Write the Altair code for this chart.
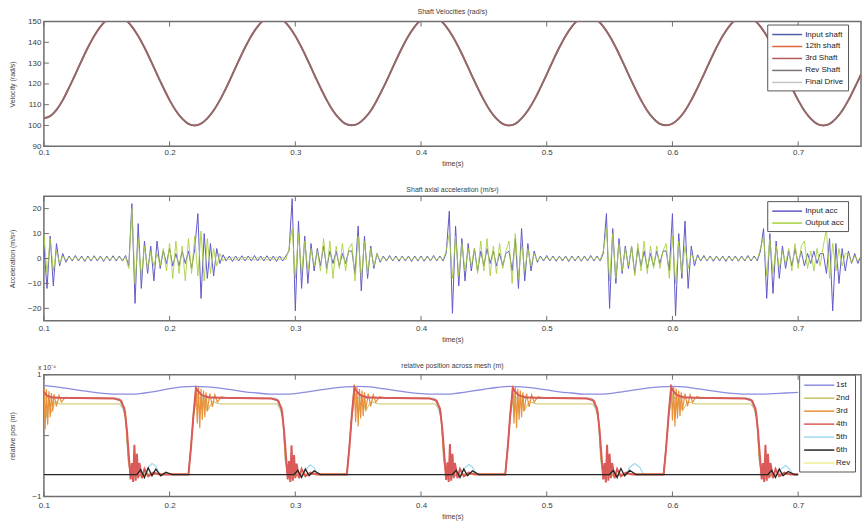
import altair as alt
import pandas as pd

FONT = "Liberation Sans"
TXT = "#3c3c3c"
FRAME = "#6f6f6f"
W = 819
H1, H2, H3 = 125, 125, 122
X_TICKS = [0.1, 0.2, 0.3, 0.4, 0.5, 0.6, 0.7]

# ---------------- Panel 1: shaft velocities (rad/s), sampled every 0.005 s from 0.100 s
vel_step = 0.005
velocity = [
    103.5, 104.5, 107.5, 112.2, 118.2, 124.6, 131.2, 137.5, 143.1, 147.6, 150.8, 152.4, 152.4,
    150.8, 147.6, 143.1, 137.5, 131.2, 124.6, 118.2, 112.2, 107.1, 103.3, 100.8, 100.0,
    100.9, 103.4, 107.2, 112.2, 118.1, 124.6, 131.2, 137.5, 143.1, 147.6, 150.8, 152.4, 152.4,
    150.8, 147.6, 143.1, 137.5, 131.2, 124.6, 118.2, 112.2, 107.1, 103.3, 100.8, 100.1,
    100.9, 103.4, 107.1, 112.3, 118.2, 124.6, 131.2, 137.5, 143.1, 147.6, 150.8, 152.4, 152.4,
    150.8, 147.6, 143.1, 137.5, 131.2, 124.6, 118.2, 112.2, 107.1, 103.3, 100.8, 100.0,
    100.8, 103.4, 107.2, 112.2, 118.2, 124.6, 131.2, 137.5, 143.1, 147.6, 150.8, 152.4, 152.4,
    150.8, 147.6, 143.1, 137.5, 131.2, 124.6, 118.2, 112.2, 107.1, 103.3, 100.8, 100.1,
    100.9, 103.3, 107.1, 112.2, 118.2, 124.6, 131.2, 137.5, 143.1, 147.6, 150.8, 152.4, 152.4,
    150.8, 147.6, 143.1, 137.5, 131.2, 124.6, 118.2, 112.2, 107.1, 103.3, 100.8, 100.0,
    100.8, 103.3, 107.1, 112.2, 118.2, 124.6,
]
shaft_names = ["Input shaft", "12th shaft", "3rd Shaft", "Rev Shaft", "Final Drive"]
shaft_colors = ["#4f5fa8", "#e0643c", "#b05a5a", "#7d7474", "#c4c4c4"]
VEL_TICKS = [90, 100, 110, 120, 130, 140, 150]

# ---------------- Panel 2: axial acceleration (m/s^2), sampled every 0.0025 s from 0.100 s
acc_step = 0.0025
acc_in_segments = [
    [5, -12, 9, -11, 6],
    [-3, 2, -1.5, 1, -1, 1.2, -1, 1, -1.2, 1, -1, 1.1, -1, 1, -1.2, 1, -1, 1.1, -1, 1, -1, 1.2, -3],
    [22, -18, 14, -12, 7, -6, 5, -9, 7],
    [-4, 3, -2, 4, -3, 2, -3, 3, -2, 3, -4],
    [4, 18, -16, 10, -8, 6, -7, 4],
    [-2, 1.5, -1, 1, -1.2, 1, -1, 1.1, -1, 1, -1, 1.2, -1, 1, -1, 1.1, -1, 1, -1.2, 1, -1, 1],
    [3, 24, -21, 15, -12, 9, -10, 6, -5],
    [4, -3, 5, -4, 3, -2, 3, -3, 2, -2, 3],
    [3, -6, 13, -13, 9, -8, 5, -4],
    [2, -1.5, 1, -1, 1.2, -1, 1, -1.1, 1, -1, 1, -1.2, 1, -1, 1, -1.1, 1, -1, 1.2, -1, 1, -1],
    [2, 19, -22, 13, -11, 8, -9, 6, -5],
    [4, -5, 3, -3, 4, -2, 3, -3, 2, -3, 2],
    [3, -5, 8, -12, 12, -9, 6, -5],
    [3, -1.5, 1, -1, 1.2, -1, 1, -1.1, 1, -1, 1, -1.2, 1, -1, 1, -1.1, 1, -1, 1.2, -1, 1, -1],
    [2, 18, -20, 12, -10, 8, -6, 5, -4],
    [5, -6, 4, -3, 3, -4, 2, -3, 3, -2, 3],
    [3, -5, 18, -23, 10, -8, 15, -12],
    [5, -3, 1.5, -1, 1.2, -1, 1, -1.1, 1, -1, 1, -1.2, 1, -1, 1, -1.1, 1, -1, 1.2, -1, 1, -1],
    [3, 12, -16, 10, -14, 7, -8, 5, -4],
    [3, -3, 4, -2, 3, -3, 2, -2, 3, -2, 2],
    [2, -6, 8, -21, 6, -10, 4, -5],
    [3, -2, 2, -2, 1],
]
acc_out_segments = [
    [10, -6, 8, -5, 3],
    [-2, 1, -0.6, 0.5, -0.5, 0.6, -0.5, 0.5, -0.6, 0.5, -0.5, 0.6, -0.5, 0.5, -0.6, 0.5, -0.5, 0.6, -0.5, 0.5, -0.5, 0.6, -4],
    [20, -10, 8, -7, 5, -4, 3, -3, 2],
    [-3, 4, -5, 6, -8, 7, -6, 5, -9, 8, -6],
    [9, -7, 11, -9, 8, -6, 4, -3],
    [2, -1, 0.6, -0.5, 0.5, -0.6, 0.5, -0.5, 0.6, -0.5, 0.5, -0.6, 0.5, -0.5, 0.5, -0.6, 0.5, -0.5, 0.6, -0.5, 0.5, -0.5],
    [4, 12, -8, 10, -6, 7, -5, 4, -3],
    [3, -5, 8, -6, 7, -8, 5, -4, 6, -5, 4],
    [6, -9, 9, -8, 7, -6, 4, -3],
    [2, -1, 0.6, -0.5, 0.5, -0.6, 0.5, -0.5, 0.6, -0.5, 0.5, -0.6, 0.5, -0.5, 0.5, -0.6, 0.5, -0.5, 0.6, -0.5, 0.5, -0.5],
    [3, 10, -8, 9, -7, 6, -5, 4, -3],
    [4, -6, 7, -5, 8, -7, 5, -6, 6, -4, 3],
    [7, -10, 10, -8, 6, -5, 4, -3],
    [2, -1, 0.6, -0.5, 0.5, -0.6, 0.5, -0.5, 0.6, -0.5, 0.5, -0.6, 0.5, -0.5, 0.5, -0.6, 0.5, -0.5, 0.6, -0.5, 0.5, -0.5],
    [3, 12, -9, 10, -8, 6, -5, 4, -3],
    [5, -7, 6, -5, 7, -6, 5, -4, 5, -4, 3],
    [6, -8, 9, -10, 7, -6, 5, -4],
    [2, -1, 0.6, -0.5, 0.5, -0.6, 0.5, -0.5, 0.6, -0.5, 0.5, -0.6, 0.5, -0.5, 0.5, -0.6, 0.5, -0.5, 0.6, -0.5, 0.5, -0.5],
    [4, 9, -7, 8, -6, 5, -4, 3, -2],
    [4, -5, 6, -4, 5, 7, -4, 3, -5, 4, -3],
    [5, 12, -8, 6, -5, 4, -3, 2],
    [2, -2, 1, -1, 1],
]
acc_names = ["Input acc", "Output acc"]
acc_colors = ["#6159c8", "#a6cf3a"]
ACC_TICKS = [-20, -10, 0, 10, 20]

# ---------------- Panel 3: relative position across mesh (x 1e-4 m)
pos_1st_step = 0.01
pos_1st = [
    0.82, 0.80, 0.77, 0.74, 0.71, 0.69, 0.68, 0.68, 0.70, 0.73,
    0.77, 0.80, 0.81, 0.80, 0.78, 0.75, 0.72, 0.70, 0.68, 0.68,
    0.69, 0.72, 0.75, 0.78, 0.80, 0.81, 0.80, 0.77, 0.74, 0.71,
    0.69, 0.68, 0.68, 0.70, 0.73, 0.76, 0.79, 0.81, 0.80, 0.78,
    0.75, 0.72, 0.70, 0.68, 0.68, 0.69, 0.72, 0.75, 0.78, 0.80,
    0.81, 0.80, 0.77, 0.74, 0.71, 0.69, 0.68, 0.68, 0.69, 0.70, 0.71,
]
pos_2nd = [
    (0.100, 0.70), (0.102, 0.30), (0.104, 0.62), (0.106, 0.38), (0.109, 0.56), (0.113, 0.52),
    (0.160, 0.52), (0.165, 0.40), (0.167, -0.40), (0.169, -0.64),
    (0.215, -0.64), (0.219, 0.30), (0.222, 0.70), (0.224, 0.35), (0.227, 0.62), (0.230, 0.40), (0.234, 0.56), (0.240, 0.52),
    (0.285, 0.52), (0.290, 0.40), (0.292, -0.40), (0.294, -0.64),
    (0.341, -0.64), (0.345, 0.30), (0.348, 0.70), (0.350, 0.35), (0.353, 0.62), (0.356, 0.40), (0.360, 0.56), (0.366, 0.52),
    (0.411, 0.52), (0.416, 0.40), (0.418, -0.40), (0.420, -0.64),
    (0.467, -0.64), (0.471, 0.30), (0.474, 0.70), (0.476, 0.35), (0.479, 0.62), (0.482, 0.40), (0.486, 0.56), (0.492, 0.52),
    (0.536, 0.52), (0.541, 0.40), (0.543, -0.40), (0.545, -0.64),
    (0.593, -0.64), (0.597, 0.30), (0.600, 0.70), (0.602, 0.35), (0.605, 0.62), (0.608, 0.40), (0.612, 0.56), (0.618, 0.52),
    (0.662, 0.52), (0.667, 0.40), (0.669, -0.40), (0.671, -0.64), (0.700, -0.64),
]
pos_3rd = [
    (0.100, 0.80), (0.101, 0.10), (0.102, 0.76), (0.103, 0.18), (0.104, 0.73), (0.105, 0.30), (0.106, 0.70),
    (0.107, 0.40), (0.108, 0.68), (0.110, 0.48), (0.112, 0.66), (0.114, 0.55), (0.117, 0.63), (0.122, 0.62),
    (0.156, 0.61), (0.162, 0.57), (0.165, 0.30), (0.167, -0.30), (0.169, -0.68), (0.172, -0.60), (0.176, -0.66), (0.185, -0.63),
    (0.215, -0.63), (0.217, -0.20), (0.219, 0.35), (0.221, 0.82), (0.222, 0.20), (0.223, 0.80), (0.224, 0.12), (0.225, 0.77),
    (0.226, 0.26), (0.227, 0.74), (0.228, 0.30), (0.229, 0.71), (0.230, 0.40), (0.232, 0.69), (0.234, 0.47), (0.236, 0.67),
    (0.238, 0.55), (0.241, 0.64), (0.246, 0.62),
    (0.281, 0.61), (0.287, 0.57), (0.290, 0.30), (0.292, -0.30), (0.294, -0.68), (0.297, -0.60), (0.301, -0.66), (0.310, -0.63),
    (0.341, -0.63), (0.343, -0.20), (0.345, 0.35), (0.347, 0.84), (0.348, 0.22), (0.349, 0.80), (0.350, 0.15), (0.351, 0.77),
    (0.352, 0.28), (0.353, 0.74), (0.354, 0.32), (0.355, 0.71), (0.356, 0.42), (0.358, 0.69), (0.360, 0.48), (0.362, 0.67),
    (0.364, 0.55), (0.367, 0.64), (0.372, 0.62),
    (0.407, 0.61), (0.413, 0.57), (0.416, 0.30), (0.418, -0.30), (0.420, -0.68), (0.423, -0.60), (0.427, -0.66), (0.436, -0.63),
    (0.467, -0.63), (0.469, -0.20), (0.471, 0.35), (0.473, 0.82), (0.474, 0.20), (0.475, 0.80), (0.476, 0.12), (0.477, 0.77),
    (0.478, 0.26), (0.479, 0.74), (0.480, 0.30), (0.481, 0.71), (0.482, 0.40), (0.484, 0.69), (0.486, 0.47), (0.488, 0.67),
    (0.490, 0.55), (0.493, 0.64), (0.498, 0.62),
    (0.532, 0.61), (0.538, 0.57), (0.541, 0.30), (0.543, -0.30), (0.545, -0.68), (0.548, -0.60), (0.552, -0.66), (0.561, -0.63),
    (0.593, -0.63), (0.595, -0.20), (0.597, 0.35), (0.599, 0.84), (0.600, 0.25), (0.601, 0.80), (0.602, 0.15), (0.603, 0.77),
    (0.604, 0.28), (0.605, 0.74), (0.606, 0.32), (0.607, 0.71), (0.608, 0.42), (0.610, 0.69), (0.612, 0.48), (0.614, 0.67),
    (0.616, 0.55), (0.619, 0.64), (0.624, 0.62),
    (0.658, 0.61), (0.664, 0.57), (0.667, 0.30), (0.669, -0.30), (0.671, -0.68), (0.674, -0.60), (0.678, -0.66), (0.687, -0.63),
    (0.700, -0.63),
]
pos_4th = [
    (0.100, 0.72), (0.102, 0.66), (0.106, 0.63), (0.112, 0.62),
    (0.156, 0.61), (0.161, 0.58), (0.164, 0.45), (0.166, 0.10), (0.168, -0.45), (0.169, -0.72), (0.170, -0.45),
    (0.171, -0.76), (0.172, -0.15), (0.173, -0.74), (0.174, -0.30), (0.175, -0.70), (0.176, -0.45), (0.178, -0.70),
    (0.180, -0.55), (0.183, -0.67), (0.187, -0.61), (0.192, -0.64),
    (0.215, -0.64), (0.217, -0.20), (0.219, 0.35), (0.221, 0.78), (0.223, 0.72), (0.226, 0.66), (0.231, 0.63), (0.240, 0.62),
    (0.281, 0.61), (0.286, 0.58), (0.289, 0.45), (0.291, 0.10), (0.293, -0.45), (0.294, -0.72), (0.295, -0.42),
    (0.296, -0.76), (0.297, -0.16), (0.298, -0.74), (0.299, -0.32), (0.300, -0.70), (0.301, -0.46), (0.303, -0.70),
    (0.305, -0.55), (0.308, -0.67), (0.312, -0.61), (0.317, -0.64),
    (0.341, -0.64), (0.343, -0.20), (0.345, 0.35), (0.347, 0.79), (0.349, 0.72), (0.352, 0.66), (0.357, 0.63), (0.366, 0.62),
    (0.407, 0.61), (0.412, 0.58), (0.415, 0.45), (0.417, 0.10), (0.419, -0.45), (0.420, -0.73), (0.421, -0.44),
    (0.422, -0.76), (0.423, -0.14), (0.424, -0.74), (0.425, -0.30), (0.426, -0.70), (0.427, -0.45), (0.429, -0.70),
    (0.431, -0.55), (0.434, -0.67), (0.438, -0.61), (0.443, -0.64),
    (0.467, -0.64), (0.469, -0.20), (0.471, 0.35), (0.473, 0.78), (0.475, 0.72), (0.478, 0.66), (0.483, 0.63), (0.492, 0.62),
    (0.532, 0.61), (0.537, 0.58), (0.540, 0.45), (0.542, 0.10), (0.544, -0.45), (0.545, -0.72), (0.546, -0.45),
    (0.547, -0.77), (0.548, -0.15), (0.549, -0.74), (0.550, -0.30), (0.551, -0.70), (0.552, -0.45), (0.554, -0.70),
    (0.556, -0.55), (0.559, -0.67), (0.563, -0.61), (0.568, -0.64),
    (0.593, -0.64), (0.595, -0.20), (0.597, 0.35), (0.599, 0.80), (0.601, 0.72), (0.604, 0.66), (0.609, 0.63), (0.618, 0.62),
    (0.658, 0.61), (0.663, 0.58), (0.666, 0.45), (0.668, 0.10), (0.670, -0.45), (0.671, -0.72), (0.672, -0.45),
    (0.673, -0.76), (0.674, -0.15), (0.675, -0.74), (0.676, -0.30), (0.677, -0.70), (0.678, -0.45), (0.680, -0.70),
    (0.682, -0.55), (0.685, -0.67), (0.689, -0.61), (0.694, -0.64), (0.700, -0.64),
]
pos_5th = [
    (0.100, 0.62), (0.160, 0.61), (0.165, 0.30), (0.167, -0.40), (0.169, -0.64), (0.180, -0.64), (0.183, -0.52),
    (0.186, -0.46), (0.189, -0.50), (0.192, -0.64), (0.215, -0.64), (0.219, 0.35), (0.221, 0.62),
    (0.285, 0.61), (0.290, 0.30), (0.292, -0.40), (0.294, -0.64), (0.306, -0.64), (0.309, -0.54), (0.312, -0.48),
    (0.315, -0.53), (0.318, -0.64), (0.341, -0.64), (0.345, 0.35), (0.347, 0.62),
    (0.411, 0.61), (0.416, 0.30), (0.418, -0.40), (0.420, -0.64), (0.432, -0.64), (0.435, -0.53), (0.438, -0.47),
    (0.441, -0.52), (0.444, -0.64), (0.467, -0.64), (0.471, 0.35), (0.473, 0.62),
    (0.536, 0.61), (0.541, 0.30), (0.543, -0.40), (0.545, -0.64), (0.563, -0.64), (0.566, -0.52), (0.570, -0.46),
    (0.574, -0.52), (0.577, -0.64), (0.593, -0.64), (0.597, 0.35), (0.599, 0.62),
    (0.662, 0.61), (0.667, 0.30), (0.669, -0.40), (0.671, -0.64), (0.684, -0.64), (0.687, -0.54), (0.690, -0.49),
    (0.693, -0.55), (0.696, -0.64), (0.700, -0.64),
]
pos_6th = [
    (0.100, -0.64), (0.174, -0.64), (0.177, -0.56), (0.180, -0.69), (0.183, -0.53), (0.186, -0.66), (0.189, -0.55),
    (0.193, -0.66), (0.197, -0.60), (0.202, -0.64),
    (0.299, -0.64), (0.302, -0.57), (0.305, -0.69), (0.308, -0.55), (0.311, -0.66), (0.315, -0.58), (0.320, -0.64),
    (0.425, -0.64), (0.428, -0.57), (0.431, -0.69), (0.434, -0.55), (0.437, -0.66), (0.441, -0.58), (0.446, -0.64),
    (0.550, -0.64), (0.553, -0.57), (0.556, -0.69), (0.559, -0.54), (0.562, -0.66), (0.566, -0.57), (0.571, -0.64),
    (0.676, -0.64), (0.679, -0.57), (0.682, -0.69), (0.685, -0.55), (0.688, -0.66), (0.692, -0.59), (0.697, -0.64),
    (0.700, -0.64),
]
pos_rev = [(0.100, -0.64), (0.700, -0.64)]
pos_names = ["1st", "2nd", "3rd", "4th", "5th", "6th", "Rev"]
pos_colors = ["#8c8ce0", "#c9c25e", "#e8903a", "#d95a58", "#9fdbef", "#262626", "#efef90"]
POS_TICKS = [-1, 0, 1]

# ---------------- build tables
def grid_frame(values, step, name):
    return pd.DataFrame({"time": [round(0.1 + step * i, 5) for i in range(len(values))],
                         "value": values, "series": name})

def pair_frame(pairs, name):
    return pd.DataFrame({"time": [p[0] for p in pairs], "value": [p[1] for p in pairs], "series": name})

acc_in = [v for seg in acc_in_segments for v in seg]
acc_out = [v for seg in acc_out_segments for v in seg]

xscale = alt.Scale(domain=[0.1, 0.75], nice=False, zero=False)

def x_axis(pad):
    return alt.Axis(values=X_TICKS, format=".1f", title="time(s)", ticks=False, domain=False,
                    grid=False, labelPadding=pad, titlePadding=3, labelFontSize=8, titleFontSize=7,
                    labelFont=FONT, titleFont=FONT, labelColor=TXT, titleColor=TXT,
                    titleFontWeight="normal", labelFlush=False)

def y_axis(ticks, title, fmt):
    return alt.Axis(values=ticks, format=fmt, title=title, ticks=False, domain=False, grid=False,
                    labelPadding=3, titlePadding=4, labelFontSize=8, titleFontSize=7,
                    labelFont=FONT, titleFont=FONT, labelColor=TXT, titleColor=TXT,
                    titleFontWeight="normal", minExtent=24, maxExtent=24, labelFlush=False)

def panel(layers, names, colors, ydomain, yticks, ytitle, fmt, title, height, lx, ly, xpad,
          sym, path, rowpad, loff, toff):
    X = alt.X("time:Q", scale=xscale, axis=x_axis(xpad))
    yscale = alt.Scale(domain=ydomain, nice=False, zero=False)
    Y = alt.Y("value:Q", scale=yscale, axis=y_axis(yticks, ytitle, fmt))
    C = alt.Color("series:N", scale=alt.Scale(domain=names, range=colors),
                  legend=alt.Legend(title=None, orient="none", legendX=lx, legendY=ly,
                                    symbolType=path, symbolSize=sym, symbolStrokeWidth=1.5,
                                    labelFontSize=8, labelFont=FONT, labelColor="#222222",
                                    strokeColor="#555555", fillColor="white", padding=4,
                                    rowPadding=rowpad, labelOffset=loff))
    charts = []
    for df, w, op, interp in layers:
        charts.append(alt.Chart(df).mark_line(strokeWidth=w, opacity=op, clip=True,
                                              interpolate=interp).encode(x=X, y=Y, color=C))
    xt = pd.DataFrame({"time": X_TICKS})
    yt = pd.DataFrame({"value": yticks})
    charts.append(alt.Chart(xt).mark_rule(color=FRAME, strokeWidth=1).encode(
        x=X, y=alt.value(0), y2=alt.value(5)))
    charts.append(alt.Chart(xt).mark_rule(color=FRAME, strokeWidth=1).encode(
        x=X, y=alt.value(height - 5), y2=alt.value(height)))
    charts.append(alt.Chart(yt).mark_rule(color=FRAME, strokeWidth=1).encode(
        y=Y, x=alt.value(0), x2=alt.value(5)))
    return charts, dict(width=W, height=height,
                        title=alt.Title(title, fontSize=7, font=FONT, color=TXT,
                                        fontWeight="normal", offset=toff))

# Panel 1
vel_layers = [
    (grid_frame(velocity, vel_step, "Input shaft"), 1.0, 1.0, "monotone"),
    (grid_frame(velocity, vel_step, "12th shaft"), 1.0, 1.0, "monotone"),
    (grid_frame(velocity, vel_step, "Final Drive"), 1.0, 1.0, "monotone"),
    (grid_frame(velocity, vel_step, "3rd Shaft"), 2.0, 1.0, "monotone"),
    (grid_frame(velocity, vel_step, "Rev Shaft"), 1.6, 0.7, "monotone"),
]
c1, p1props = panel(vel_layers, shaft_names, shaft_colors, [90, 150], VEL_TICKS,
                    "Velocity (rad/s)", "d", "Shaft Velocities (rad/s)", H1, 725, 3, 2,
                    100, "M-1,0L5,0", 2, 22, 3)
p1 = alt.layer(*c1).properties(**p1props)

# Panel 2
acc_layers = [
    (grid_frame(acc_in, acc_step, "Input acc"), 1.0, 1.0, "linear"),
    (grid_frame(acc_out, acc_step, "Output acc"), 1.0, 0.85, "linear"),
]
c2, p2props = panel(acc_layers, acc_names, acc_colors, [-25, 25], ACC_TICKS,
                    "Acceleration (m/s²)", "d", "Shaft axial acceleration (m/s²)", H2, 725, 5, 4,
                    100, "M-1,0L5,0", 2, 22, 3)
p2 = alt.layer(*c2).properties(**p2props)

# Panel 3
pos_layers = [
    (pair_frame(pos_rev, "Rev"), 1.0, 1.0, "linear"),
    (pair_frame(pos_5th, "5th"), 1.2, 1.0, "linear"),
    (pair_frame(pos_2nd, "2nd"), 1.0, 1.0, "linear"),
    (pair_frame(pos_3rd, "3rd"), 1.2, 1.0, "linear"),
    (grid_frame(pos_1st, pos_1st_step, "1st"), 1.3, 1.0, "monotone"),
    (pair_frame(pos_4th, "4th"), 2.0, 1.0, "linear"),
    (pair_frame(pos_6th, "6th"), 1.3, 1.0, "linear"),
]
c3, p3props = panel(pos_layers, pos_names, pos_colors, [-1, 1], POS_TICKS,
                    "relative pos (m)", "d", "relative position across mesh (m)", H3, 757, 0, 5,
                    121, "M-1,0L4.5,0", 2, 20, -5)
exp_df = pd.DataFrame({"label": ["x 10⁻⁴"]})
c3.append(alt.Chart(exp_df).mark_text(align="left", baseline="bottom", fontSize=7, font=FONT,
                                      color=TXT).encode(text="label:N", x=alt.value(-6), y=alt.value(-4)))
p3 = alt.layer(*c3).properties(**p3props)

chart = alt.vconcat(p1, p2, p3, spacing=17).resolve_scale(color="independent").resolve_legend(
    color="independent").properties(
    padding={"left": 8, "top": 6, "right": 0, "bottom": 0},
    background="white",
).configure_view(stroke=FRAME, strokeWidth=1.5)

chart.save("out.html", embed_options={"renderer": "svg", "actions": False})
